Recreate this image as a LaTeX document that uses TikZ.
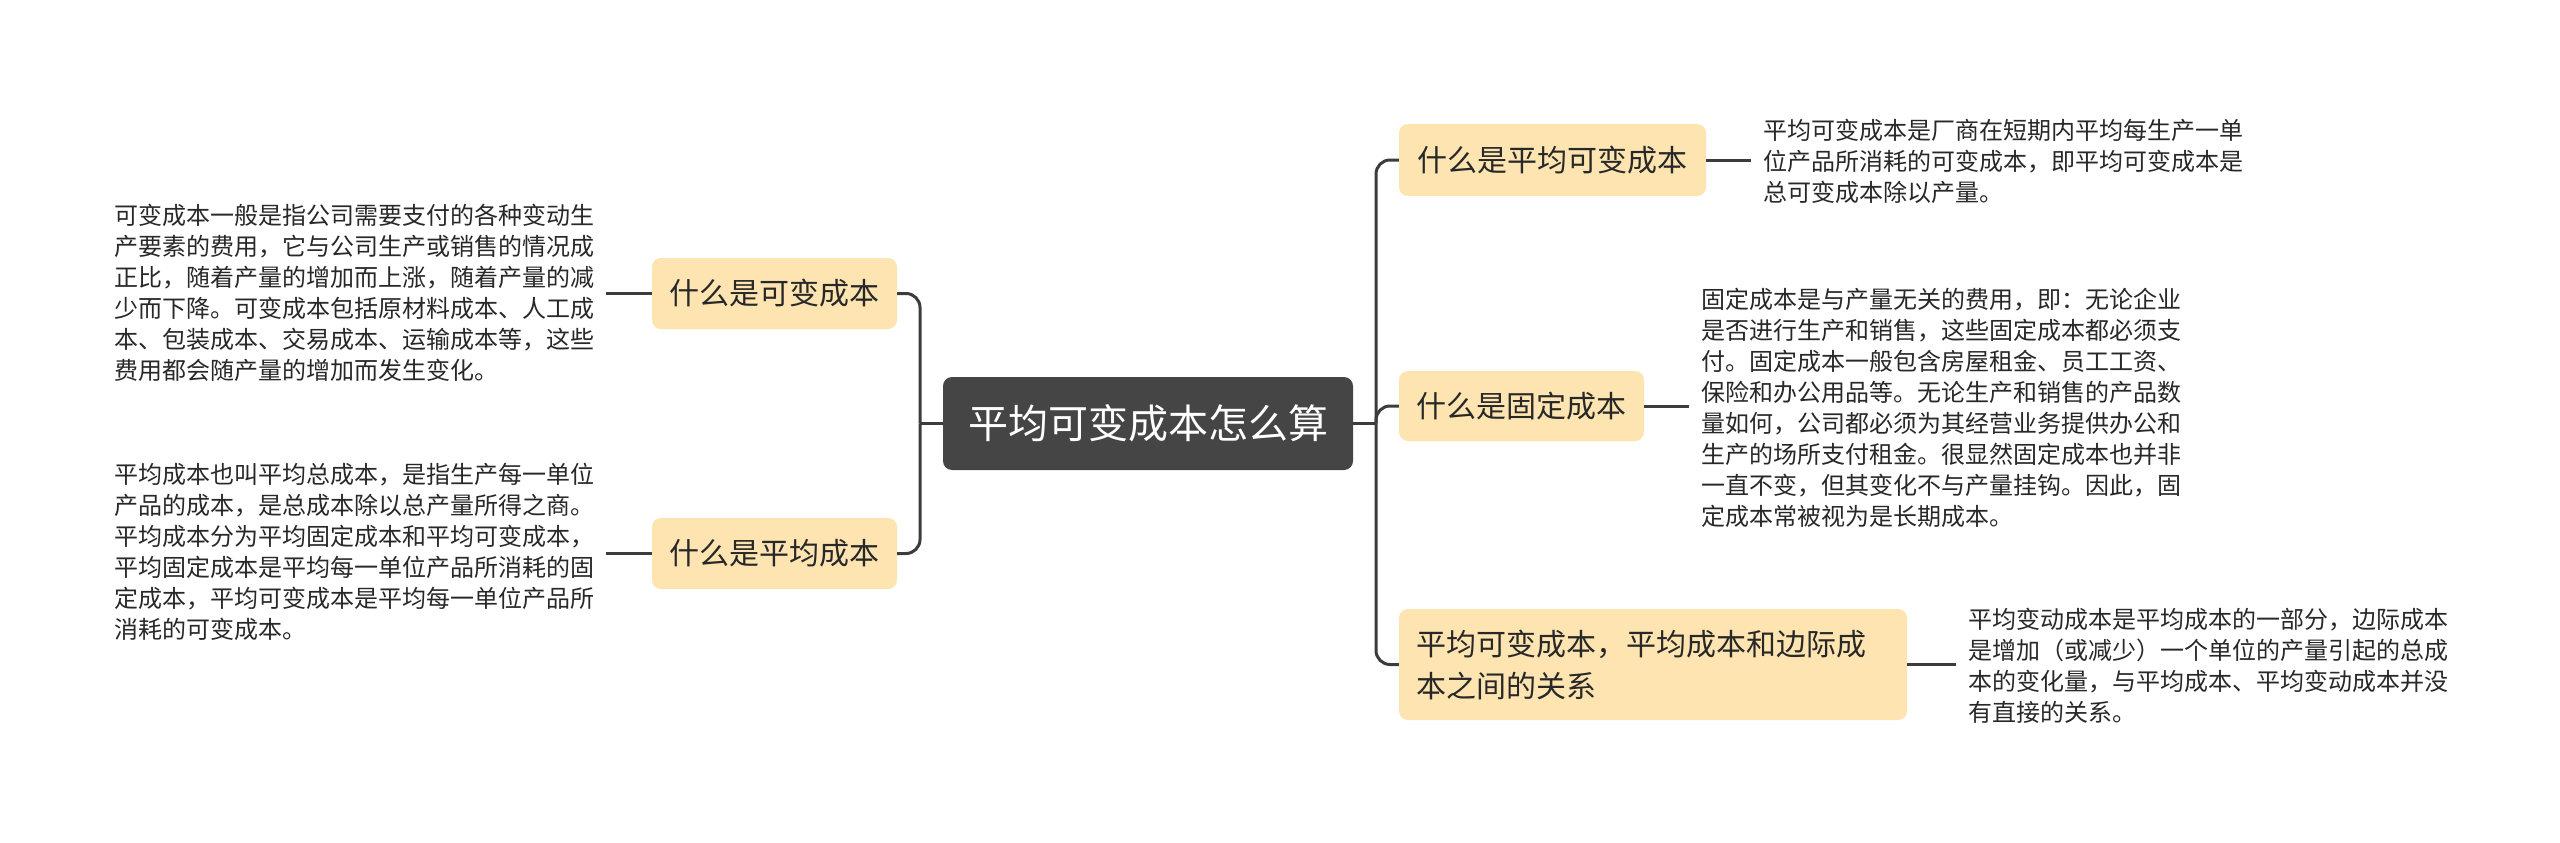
\documentclass[tikz,border=0pt]{standalone}
\usepackage{fontspec}
\setmainfont{Noto Sans CJK SC}
\definecolor{boxfill}{RGB}{253,228,176}
\definecolor{rootfill}{RGB}{69,69,69}
\definecolor{linec}{RGB}{60,60,60}
\definecolor{txt}{RGB}{40,40,40}
\begin{document}
\begin{tikzpicture}[x=1pt,y=-1pt,
  topic/.style={fill=boxfill,rounded corners=9pt,inner sep=0pt,text=txt,
    font=\fontsize{30}{42}\selectfont},
  root/.style={fill=rootfill,rounded corners=9pt,inner sep=0pt,text=white,
    font=\fontsize{40}{48}\selectfont},
  desc/.style={anchor=west,align=left,inner xsep=12pt,inner ysep=0pt,text=txt,
    font=\fontsize{24}{31}\selectfont},
  conn/.style={draw=linec,line width=3pt},
]
\useasboundingbox (0,0) rectangle (2560,843);
\fill[white] (0,0) rectangle (2560,843);

% root
\node[root,minimum width=410pt,minimum height=93pt] (c) at (1148,423.5) {平均可变成本怎么算};

% left topics
\node[topic,minimum width=245pt,minimum height=71pt] (lb1) at (774.5,293.5) {什么是可变成本};
\node[topic,minimum width=245pt,minimum height=71pt] (lb2) at (774.5,553.5) {什么是平均成本};

% right topics
\node[topic,minimum width=307pt,minimum height=72pt] (rb1) at (1552.5,160) {什么是平均可变成本};
\node[topic,minimum width=245pt,minimum height=70pt] (rb2) at (1521.5,406) {什么是固定成本};
\node[topic,minimum width=508pt,minimum height=111pt,text width=474pt,align=left,inner xsep=17pt] (rb3) at (1653,664.5) {平均可变成本，平均成本和边际成\\本之间的关系};

% descriptions
\node[desc] (lt1) at (102,292.5) {可变成本一般是指公司需要支付的各种变动生\\产要素的费用，它与公司生产或销售的情况成\\正比，随着产量的增加而上涨，随着产量的减\\少而下降。可变成本包括原材料成本、人工成\\本、包装成本、交易成本、运输成本等，这些\\费用都会随产量的增加而发生变化。};
\node[desc] (lt2) at (102,552) {平均成本也叫平均总成本，是指生产每一单位\\产品的成本，是总成本除以总产量所得之商。\\平均成本分为平均固定成本和平均可变成本，\\平均固定成本是平均每一单位产品所消耗的固\\定成本，平均可变成本是平均每一单位产品所\\消耗的可变成本。};
\node[desc] (rt1) at (1751,161) {平均可变成本是厂商在短期内平均每生产一单\\位产品所消耗的可变成本，即平均可变成本是\\总可变成本除以产量。};
\node[desc] (rt2) at (1689,408) {固定成本是与产量无关的费用，即：无论企业\\是否进行生产和销售，这些固定成本都必须支\\付。固定成本一般包含房屋租金、员工工资、\\保险和办公用品等。无论生产和销售的产品数\\量如何，公司都必须为其经营业务提供办公和\\生产的场所支付租金。很显然固定成本也并非\\一直不变，但其变化不与产量挂钩。因此，固\\定成本常被视为是长期成本。};
\node[desc] (rt3) at (1956,666) {平均变动成本是平均成本的一部分，边际成本\\是增加（或减少）一个单位的产量引起的总成\\本的变化量，与平均成本、平均变动成本并没\\有直接的关系。};

% junctions
\coordinate (lj) at (920,423.5);
\coordinate (rj) at (1376,423.5);

% root to branches
\draw[conn] (c.west) -- (lj);
\draw[conn,rounded corners=14pt] (lj) |- (lb1.east);
\draw[conn,rounded corners=14pt] (lj) |- (lb2.east);
\draw[conn] (c.east) -- (rj);
\draw[conn,rounded corners=14pt] (rj) |- (rb1.west);
\draw[conn,rounded corners=14pt] (rj) |- (rb2.west);
\draw[conn,rounded corners=14pt] (rj) |- (rb3.west);

% topics to descriptions
\draw[conn] (lb1.west) -- (lb1.west -| lt1.east);
\draw[conn] (lb2.west) -- (lb2.west -| lt2.east);
\draw[conn] (rb1.east) -- (rb1.east -| rt1.west);
\draw[conn] (rb2.east) -- (rb2.east -| rt2.west);
\draw[conn] (rb3.east) -- (rb3.east -| rt3.west);
\end{tikzpicture}
\end{document}
